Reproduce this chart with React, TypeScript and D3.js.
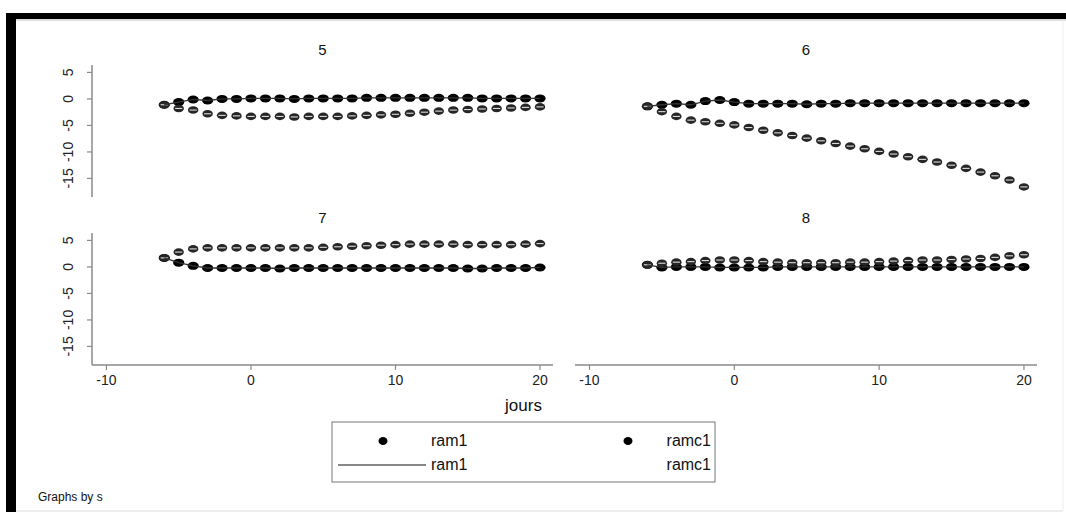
import React from 'react';
import * as d3 from 'd3';

const W = 1066;
const H = 521;

// jours (x) values shared by all panels
const jours = [-6, -5, -4, -3, -2, -1, 0, 1, 2, 3, 4, 5, 6, 7, 8, 9, 10, 11, 12, 13, 14, 15, 16, 17, 18, 19, 20];

const panelNames = ['5', '6', '7', '8'];

const ram1_5 = [-1.1, -0.6, -0.1, -0.3, 0, 0, 0.1, 0.1, 0.1, 0, 0.1, 0.1, 0.1, 0.1, 0.2, 0.2, 0.2, 0.2, 0.2, 0.2, 0.2, 0.2, 0.1, 0.1, 0.1, 0.1, 0.1];
const ramc1_5 = [-1.1, -1.8, -2.1, -2.8, -3.1, -3.2, -3.3, -3.3, -3.3, -3.4, -3.3, -3.3, -3.3, -3.2, -3.1, -3.0, -2.9, -2.7, -2.5, -2.3, -2.1, -2.0, -1.9, -1.8, -1.7, -1.6, -1.5];

const ram1_6 = [-1.4, -1.1, -0.9, -1.1, -0.4, -0.2, -0.6, -0.9, -0.9, -0.9, -0.9, -1.0, -0.9, -0.9, -0.8, -0.8, -0.8, -0.8, -0.8, -0.8, -0.8, -0.8, -0.8, -0.8, -0.8, -0.8, -0.8];
const ramc1_6 = [-1.4, -2.4, -3.3, -4.0, -4.3, -4.6, -4.9, -5.4, -5.9, -6.4, -6.9, -7.4, -7.9, -8.4, -8.9, -9.4, -9.9, -10.4, -10.9, -11.4, -11.9, -12.5, -13.1, -13.8, -14.5, -15.3, -16.6];

const ram1_7 = [1.7, 0.8, 0.2, -0.2, -0.2, -0.2, -0.2, -0.2, -0.3, -0.2, -0.2, -0.2, -0.2, -0.2, -0.2, -0.2, -0.2, -0.2, -0.2, -0.2, -0.2, -0.3, -0.3, -0.2, -0.2, -0.2, -0.1];
const ramc1_7 = [1.7, 2.8, 3.4, 3.6, 3.6, 3.6, 3.6, 3.6, 3.6, 3.6, 3.6, 3.7, 3.8, 3.9, 4.0, 4.1, 4.2, 4.3, 4.3, 4.3, 4.3, 4.2, 4.2, 4.2, 4.2, 4.3, 4.4];

const ram1_8 = [0.4, -0.1, 0, 0, 0, -0.1, -0.1, -0.1, -0.1, 0, 0, 0, 0, 0, 0, 0, 0, 0, 0, 0, 0, 0, 0, 0, 0, 0, 0];
const ramc1_8 = [0.4, 0.7, 0.9, 1.0, 1.2, 1.3, 1.3, 1.2, 1.0, 0.9, 0.8, 0.8, 0.8, 0.8, 0.9, 0.9, 1.0, 1.1, 1.2, 1.3, 1.3, 1.4, 1.5, 1.6, 1.8, 2.1, 2.3];

const xTicks = [-10, 0, 10, 20];
const yTicks = [-15, -10, -5, 0, 5];

const font = 'Liberation Sans, Arial, Helvetica, sans-serif';
const axisColor = '#8a8a8a';

const cols = [[92, 553], [575, 1037]];
const rows = [[197, 65], [365, 233]];

function Panel({ name, ram1, ramc1, col, row }) {
  const x = d3.scaleLinear().domain([-11, 20.9]).range(cols[col]);
  const y = d3.scaleLinear().domain([-18.5, 6.4]).range(rows[row]);
  const line = d3.line<number>().x((d, i) => x(jours[i])).y(d => y(d));
  const cx = (cols[col][0] + cols[col][1]) / 2;
  return (
    <g>
      <text x={cx} y={rows[row][1] - 10} textAnchor="middle" fontSize={15} fontFamily={font} fill="#111">{name}</text>
      {col === 0 && (
        <g>
          <line x1={x.range()[0]} x2={x.range()[0]} y1={y.range()[0]} y2={y.range()[1]} stroke={axisColor} strokeWidth={1.5} />
          {yTicks.map(t => (
            <g key={t}>
              <line x1={x.range()[0] - 5} x2={x.range()[0]} y1={y(t)} y2={y(t)} stroke={axisColor} strokeWidth={1.2} />
              <text transform={`translate(73,${y(t)}) rotate(-90)`} textAnchor="middle" fontSize={14} fontFamily={font} fill="#222">{t}</text>
            </g>
          ))}
        </g>
      )}
      {row === 1 && (
        <g>
          <line x1={x.range()[0]} x2={x.range()[1]} y1={y.range()[0]} y2={y.range()[0]} stroke={axisColor} strokeWidth={1.5} />
          {xTicks.map(t => (
            <g key={t}>
              <line x1={x(t)} x2={x(t)} y1={y.range()[0]} y2={y.range()[0] + 5} stroke={axisColor} strokeWidth={1.2} />
              <text x={x(t)} y={y.range()[0] + 20} textAnchor="middle" fontSize={14} fontFamily={font} fill="#222">{t}</text>
            </g>
          ))}
        </g>
      )}
      {ram1.map((v, i) => (
        <ellipse key={'a' + i} cx={x(jours[i])} cy={y(v)} rx={5.6} ry={4} fill="#000" />
      ))}
      {ramc1.map((v, i) => (
        <g key={'b' + i}>
          <ellipse cx={x(jours[i])} cy={y(v)} rx={5.2} ry={3.8} fill="#262626" />
          <line x1={x(jours[i]) - 3.6} x2={x(jours[i]) + 3.6} y1={y(v)} y2={y(v)} stroke="#ddd" strokeWidth={1.1} />
        </g>
      ))}
      <path d={line(ram1) || ''} fill="none" stroke="#333" strokeWidth={1.3} />
    </g>
  );
}

export default function App() {
  const series = [[ram1_5, ramc1_5], [ram1_6, ramc1_6], [ram1_7, ramc1_7], [ram1_8, ramc1_8]];
  const lx = 332, ly = 422, lw = 383, lh = 60;
  return (
    <svg width={W} height={H} style={{ position: 'absolute', left: 0, top: 0, background: '#fff' }}>
      <rect x={0} y={0} width={W} height={H} fill="#fff" />
      {/* frame */}
      <rect x={6} y={13} width={10} height={499} fill="#000" />
      <rect x={6} y={13} width={W - 6} height={6} fill="#000" />
      <line x1={16} x2={W} y1={20} y2={20} stroke="#bbb" strokeWidth={1} />
      <line x1={16} x2={1063} y1={511} y2={511} stroke="#ddd" strokeWidth={1} />
      <line x1={1063} x2={1063} y1={20} y2={511} stroke="#eee" strokeWidth={1} />

      {panelNames.map((n, k) => (
        <Panel key={n} name={n} ram1={series[k][0]} ramc1={series[k][1]} col={k % 2} row={Math.floor(k / 2)} />
      ))}

      <text x={lx + lw / 2} y={411} textAnchor="middle" fontSize={17} fontFamily={font} fill="#111">jours</text>

      {/* legend */}
      <rect x={lx} y={ly} width={lw} height={lh} fill="#fff" stroke="#777" strokeWidth={1} />
      <ellipse cx={383} cy={441} rx={4.5} ry={4} fill="#000" />
      <text x={431} y={446} fontSize={16} fontFamily={font} fill="#111">ram1</text>
      <ellipse cx={628} cy={441} rx={4.5} ry={4} fill="#000" />
      <text x={711} y={446} textAnchor="end" fontSize={16} fontFamily={font} fill="#111">ramc1</text>
      <line x1={338} x2={426} y1={465} y2={465} stroke="#888" strokeWidth={2} />
      <text x={431} y={470} fontSize={16} fontFamily={font} fill="#111">ram1</text>
      <text x={711} y={470} textAnchor="end" fontSize={16} fontFamily={font} fill="#111">ramc1</text>

      <text x={38} y={501} fontSize={12} fontFamily={font} fill="#111">Graphs by s</text>
    </svg>
  );
}
